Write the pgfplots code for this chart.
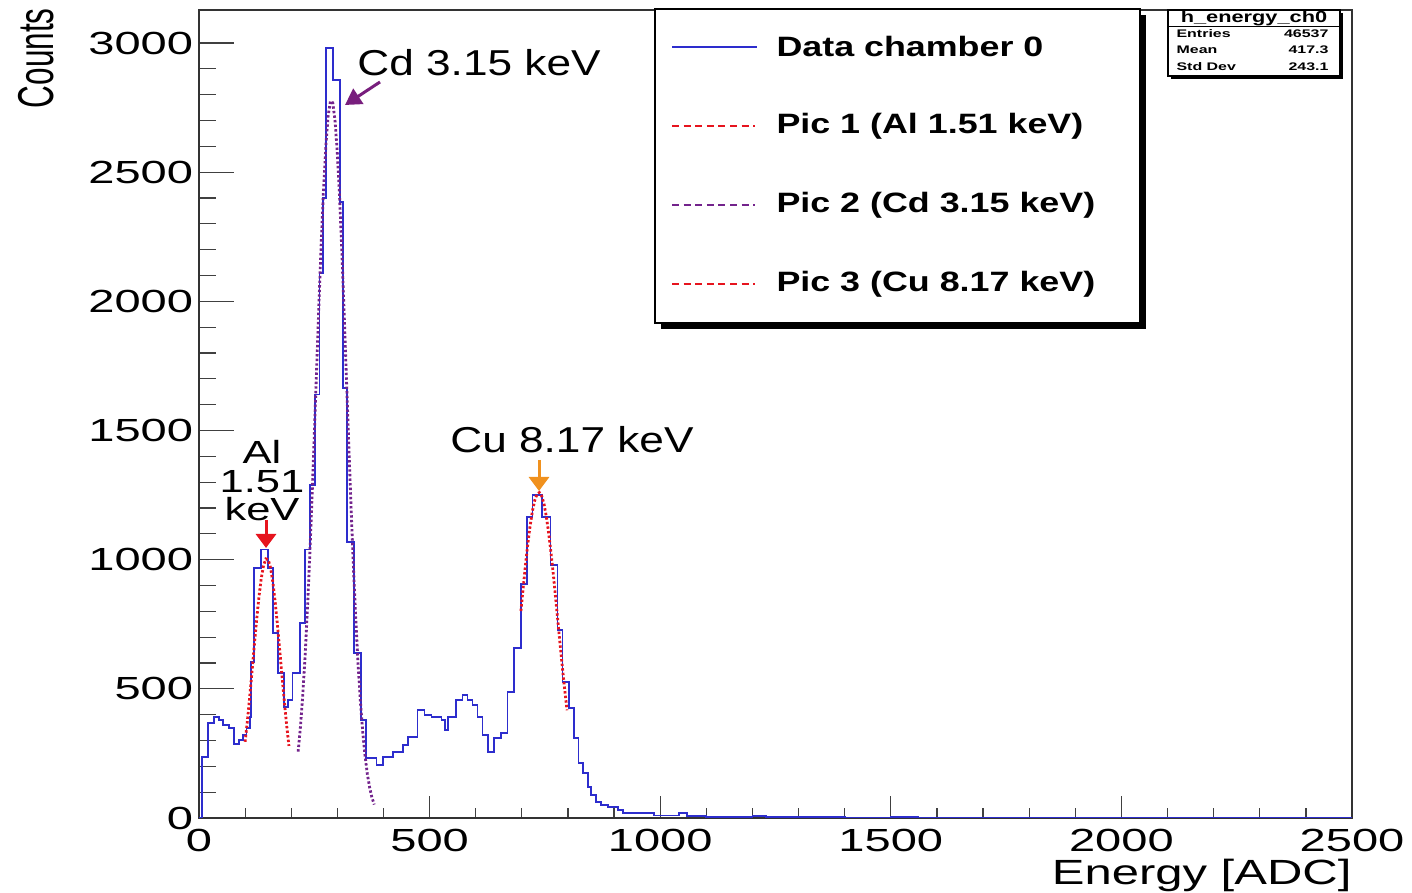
\documentclass[border=0pt]{standalone}
\usepackage{fontspec}
\setmainfont{Liberation Sans}
\usepackage{graphicx}
\usepackage{pgfplots}
\pgfplotsset{compat=1.18}
\usetikzlibrary{arrows.meta}
\definecolor{histblue}{RGB}{45,45,205}
\definecolor{fitred}{RGB}{230,20,30}
\definecolor{fitpurple}{RGB}{115,35,140}
\definecolor{arrpurple}{RGB}{120,30,125}
\definecolor{arrorange}{RGB}{240,145,30}
\begin{document}
\begin{tikzpicture}
\path[use as bounding box] (0,0) rectangle (706pt,446.5pt);
\begin{axis}[
  at={(99.5pt,37.5pt)}, anchor=south west,
  scale only axis, width=576.5pt, height=404pt,
  xmin=0, xmax=2500, ymin=0, ymax=3128,
  axis line style={line width=0.6pt, black!80},
  xtick={0,500,1000,1500,2000,2500},
  xticklabels={0,500,1000,1500,2000,2500},
  ytick={0,500,1000,1500,2000,2500,3000},
  yticklabels={0,500,1000,1500,2000,2500,3000},
  minor x tick num=4, minor y tick num=4,
  xtick pos=bottom, ytick pos=left,
  tick align=inside,
  major x tick style={/pgfplots/major tick length=11pt, black!75, line width=0.6pt},
  minor x tick style={/pgfplots/minor tick length=5pt, black!75, line width=0.6pt},
  major y tick style={/pgfplots/major tick length=17.5pt, black!75, line width=0.6pt},
  minor y tick style={/pgfplots/minor tick length=8.5pt, black!75, line width=0.6pt},
  xticklabel style={font=\fontsize{16}{16}\selectfont, xscale=1.47, yshift=-2pt},
  yticklabel style={font=\fontsize{16}{16}\selectfont, xscale=1.47, xshift=1.5pt},
]
\addplot[const plot, histblue, line width=0.85pt] coordinates {
(0,0) (7,236) (20,368) (33,391) (44,379) (52,360) (65,348) (76,286) (86,302) (96,320)
(103,348) (110,391) (113,604) (119,968) (134,1040) (150,968) (160,716) (171,561) (184,430)
(193,457) (203,561) (219,755) (230,1040) (240,1290) (251,1640) (261,2110) (269,2400)
(275,2980) (290,2857) (305,2385) (312,1665) (321,1068) (336,639) (351,379) (362,232)
(385,205) (399,236) (420,255) (442,283) (453,314) (474,418) (489,399) (504,391) (526,379)
(533,341) (540,391) (557,457) (571,476) (582,457) (593,437) (604,391) (615,321) (626,255)
(640,310) (655,329) (669,488) (683,658) (698,905) (711,1165) (723,1250) (744,1165)
(762,979) (777,728) (788,527) (802,426) (813,310) (823,213) (833,174) (843,120) (850,89)
(861,62) (872,50) (887,43) (908,31) (919,19) (987,10) (1040,20) (1058,8) (1100,5)
(1200,8) (1230,3) (1300,5) (1400,2) (1500,4) (1560,2) (1620,0) (2500,0)};
\addplot[fitred, line width=1.4pt, dash pattern=on 1.2pt off 1.1pt] coordinates {
(100,295) (105,377) (110,470) (115,569) (120,670) (125,768) (130,856) (135,928) (140,978)
(145,1003) (150,1000) (155,970) (160,915) (165,839) (170,749) (175,650) (180,549) (185,451)
(190,360) (195,279)};
\addplot[fitpurple, line width=1.4pt, dash pattern=on 1.2pt off 1.1pt] coordinates {
(215,257) (220,354) (225,476) (230,626) (235,803) (240,1008) (245,1237) (250,1483)
(255,1737) (260,1989) (265,2226) (270,2434) (275,2602) (280,2718) (285,2775) (290,2769)
(295,2699) (300,2572) (305,2396) (310,2181) (315,1940) (320,1686) (325,1433) (330,1189)
(335,965) (340,766) (345,593) (350,450) (355,333) (360,241) (365,170) (370,118) (375,79)
(380,52)};
\addplot[fitred, line width=1.4pt, dash pattern=on 1.2pt off 1.1pt] coordinates {
(698,801) (703,893) (708,981) (713,1062) (718,1132) (723,1189) (728,1230) (733,1254)
(738,1260) (743,1247) (748,1216) (753,1168) (758,1105) (763,1030) (768,947) (773,857)
(778,764) (783,671) (788,581) (793,496) (798,417)};
\end{axis}
\begin{scope}[x=0.5pt, y=-0.5pt, shift={(0pt,446.5pt)}]
% legend
\fill[black] (661,15) rectangle (1146,329);
\draw[fill=white, line width=0.6pt] (655,9) rectangle (1140,323);
\draw[histblue, line width=0.6pt] (672,47) -- (757,47);
\draw[fitred, line width=1pt, dash pattern=on 3.5pt off 2.3pt] (672,126) -- (755,126);
\draw[fitpurple, line width=1pt, dash pattern=on 3.5pt off 2.3pt] (672,205) -- (755,205);
\draw[fitred, line width=1pt, dash pattern=on 3.5pt off 2.3pt] (672,284) -- (755,284);
\node[anchor=west, inner sep=0pt, font=\bfseries\fontsize{14}{14}\selectfont, xscale=1.28] at (776,47) {Data chamber 0};
\node[anchor=west, inner sep=0pt, font=\bfseries\fontsize{14}{14}\selectfont, xscale=1.28] at (776,126) {Pic 1 (Al 1.51 keV)};
\node[anchor=west, inner sep=0pt, font=\bfseries\fontsize{14}{14}\selectfont, xscale=1.28] at (776,205) {Pic 2 (Cd 3.15 keV)};
\node[anchor=west, inner sep=0pt, font=\bfseries\fontsize{14}{14}\selectfont, xscale=1.28] at (776,284) {Pic 3 (Cu 8.17 keV)};
% stats box
\fill[black] (1171,13) rectangle (1343,79);
\draw[fill=white, line width=0.6pt] (1168,10) rectangle (1340,76);
\draw[line width=0.5pt] (1168,27) -- (1340,27);
\node[font=\bfseries\fontsize{8}{8}\selectfont, xscale=1.36] at (1254,18) {h\_energy\_ch0};
\node[anchor=west, inner sep=0pt, font=\bfseries\fontsize{5.5}{5.5}\selectfont, xscale=1.45] at (1176,34) {Entries};
\node[anchor=west, inner sep=0pt, font=\bfseries\fontsize{5.5}{5.5}\selectfont, xscale=1.45] at (1176,50) {Mean};
\node[anchor=west, inner sep=0pt, font=\bfseries\fontsize{5.5}{5.5}\selectfont, xscale=1.45] at (1176,67) {Std Dev};
\node[anchor=east, inner sep=0pt, font=\bfseries\fontsize{5.5}{5.5}\selectfont, xscale=1.45] at (1329,34) {46537};
\node[anchor=east, inner sep=0pt, font=\bfseries\fontsize{5.5}{5.5}\selectfont, xscale=1.45] at (1329,50) {417.3};
\node[anchor=east, inner sep=0pt, font=\bfseries\fontsize{5.5}{5.5}\selectfont, xscale=1.45] at (1329,67) {243.1};
% axis titles
\node[anchor=east, inner sep=0pt, font=\fontsize{17.5}{17.5}\selectfont, xscale=1.4] at (1352,875) {Energy [ADC]};
\node[rotate=90, anchor=east, font=\fontsize{15.75}{15.75}\selectfont, inner sep=0pt] at (36,8) {\scalebox{1}[1.6]{Counts}};
% annotations
\node[anchor=west, font=\fontsize{18}{18}\selectfont, xscale=1.227, inner sep=0pt] at (357,63) {Cd 3.15 keV};
\node[font=\fontsize{18}{18}\selectfont, xscale=1.227, inner sep=0pt] at (572,440) {Cu 8.17 keV};
\node[inner sep=0pt, text height=11.5pt, text depth=0pt, font=\fontsize{16}{16}\selectfont, xscale=1.36] at (262,452) {Al};
\node[inner sep=0pt, text height=11.5pt, text depth=0pt, font=\fontsize{16}{16}\selectfont, xscale=1.36] at (262,481) {1.51};
\node[inner sep=0pt, text height=11.5pt, text depth=0pt, font=\fontsize{16}{16}\selectfont, xscale=1.36] at (262,509) {keV};
\draw[arrpurple, line width=1.5pt, -{Triangle[length=8pt,width=9pt]}] (380,82) -- (345,105);
\draw[fitred, line width=1.5pt, -{Triangle[length=7pt,width=10pt]}] (266,520) -- (266,548);
\draw[arrorange, line width=1.5pt, -{Triangle[length=7pt,width=10pt]}] (539,460) -- (539,491);
\end{scope}
\end{tikzpicture}
\end{document}
